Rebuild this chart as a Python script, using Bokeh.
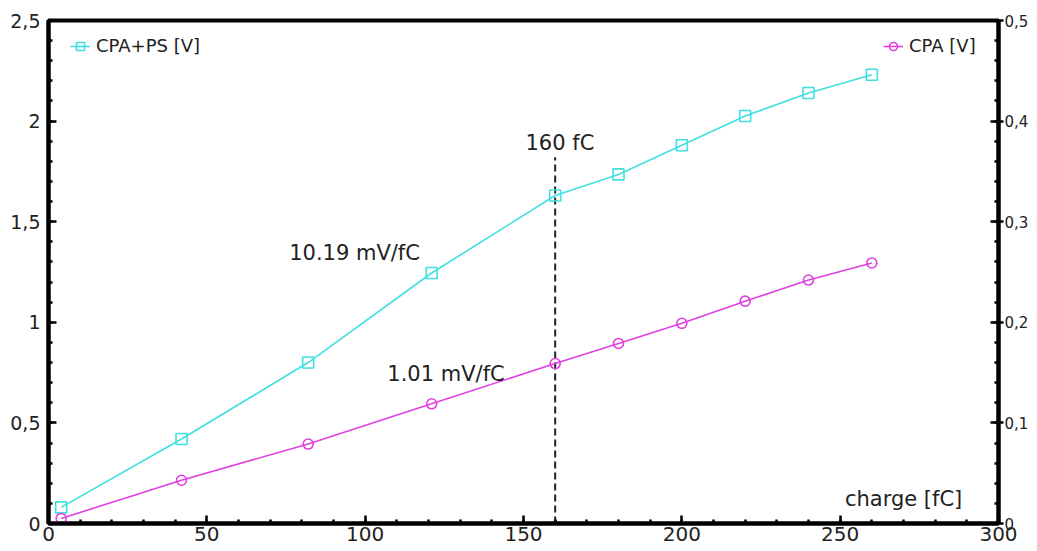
from bokeh.plotting import figure
from bokeh.models import (Range1d, LinearAxis, FixedTicker, Legend, LegendItem, Label)
from bokeh.embed import file_html
from bokeh.resources import INLINE

# ---- data ----
charge = [4, 42, 82, 121, 160, 180, 200, 220, 240, 260]
cpa_ps = [0.08, 0.42, 0.80, 1.245, 1.63, 1.735, 1.88, 2.025, 2.14, 2.23]
cpa = [0.005, 0.043, 0.079, 0.119, 0.159, 0.179, 0.199, 0.221, 0.242, 0.259]

x_ticks = [0, 50, 100, 150, 200, 250, 300]
x_tick_labels = ["0", "50", "100", "150", "200", "250", "300"]
left_ticks = [0, 0.5, 1, 1.5, 2, 2.5]
left_tick_labels = ["0", "0,5", "1", "1,5", "2", "2,5"]
right_ticks = [0, 0.1, 0.2, 0.3, 0.4, 0.5]
right_tick_labels = ["0", "0,1", "0,2", "0,3", "0,4", "0,5"]

marker_x = 160
marker_top = 1.82

CYAN = "#40e0e0"
MAGENTA = "#e040e0"
TXT = "#222222"
FONT = "DejaVu Sans"

p = figure(width=1037, height=551, frame_width=950, frame_height=503,
           x_range=Range1d(0, 300), y_range=Range1d(0, 2.5),
           output_backend="svg", toolbar_location=None,
           min_border_left=48, min_border_right=39, min_border_top=20, min_border_bottom=28,
           background_fill_color="white", border_fill_color="white")
p.extra_y_ranges = {"cpa": Range1d(0, 0.5)}
p.grid.visible = False
p.outline_line_color = "black"
p.outline_line_width = 4

def style_axis(ax, tick_out=0):
    ax.axis_line_color = "black"
    ax.axis_line_width = 4
    ax.major_tick_line_color = "black"
    ax.major_tick_line_width = 2.5
    ax.minor_tick_line_color = "black"
    ax.minor_tick_line_width = 2.5
    ax.major_tick_in = 8
    ax.major_tick_out = tick_out
    ax.minor_tick_in = 4
    ax.minor_tick_out = 0
    ax.major_label_text_color = TXT
    ax.major_label_text_font = FONT

xa = p.xaxis[0]
style_axis(xa)
xa.ticker = FixedTicker(ticks=x_ticks, minor_ticks=list(range(0, 301, 10)))
xa.major_label_overrides = {t: l for t, l in zip(x_ticks, x_tick_labels)}
xa.major_label_text_font_size = "20px"
xa.major_label_standoff = 3

ya = p.yaxis[0]
style_axis(ya)
ya.ticker = FixedTicker(ticks=left_ticks, minor_ticks=[i * 0.1 for i in range(26)])
ya.major_label_overrides = {t: l for t, l in zip(left_ticks, left_tick_labels)}
ya.major_label_text_font_size = "19px"
ya.major_label_standoff = 8

ra = LinearAxis(y_range_name="cpa")
style_axis(ra, tick_out=5)
ra.ticker = FixedTicker(ticks=right_ticks, minor_ticks=[i * 0.02 for i in range(26)])
ra.major_label_overrides = {t: l for t, l in zip(right_ticks, right_tick_labels)}
ra.major_label_text_font_size = "15px"
ra.major_label_standoff = 1
p.add_layout(ra, "right")

# dashed marker line at 160 fC
p.segment(x0=[marker_x], y0=[0], x1=[marker_x], y1=[marker_top],
          line_color="#222222", line_width=2, line_dash="7 4")

l1 = p.line(charge, cpa_ps, line_color=CYAN, line_width=1.6)
s1 = p.scatter(charge, cpa_ps, marker="square", size=11, line_color=CYAN,
               fill_color="white", fill_alpha=0, line_width=1.6)
l2 = p.line(charge, cpa, line_color=MAGENTA, line_width=1.6, y_range_name="cpa")
s2 = p.scatter(charge, cpa, marker="circle", size=10, line_color=MAGENTA,
               fill_color="white", fill_alpha=0, line_width=1.6, y_range_name="cpa")

def make_legend(label, rends, loc):
    lg = Legend(items=[LegendItem(label=label, renderers=rends)], location=loc,
                border_line_alpha=0, background_fill_alpha=0, padding=0, margin=0,
                label_text_font=FONT, label_text_font_size="18px",
                label_text_color=TXT, glyph_width=20, label_standoff=6)
    p.add_layout(lg)

make_legend("CPA+PS [V]", [l1, s1], (22, 467))
make_legend("CPA [V]", [l2, s2], (835, 467))

def add_label(x, y, text, align="left"):
    p.add_layout(Label(x=x, y=y, text=text, text_font=FONT, text_font_size="21px",
                       text_color=TXT, text_align=align, text_baseline="alphabetic"))

add_label(76, 1.342, "10.19 mV/fC")
add_label(107, 0.745, "1.01 mV/fC")
add_label(161.5, 1.889, "160 fC", "center")
add_label(251.5, 0.12, "charge [fC]")

open("out.html", "w").write(file_html(p, INLINE))
